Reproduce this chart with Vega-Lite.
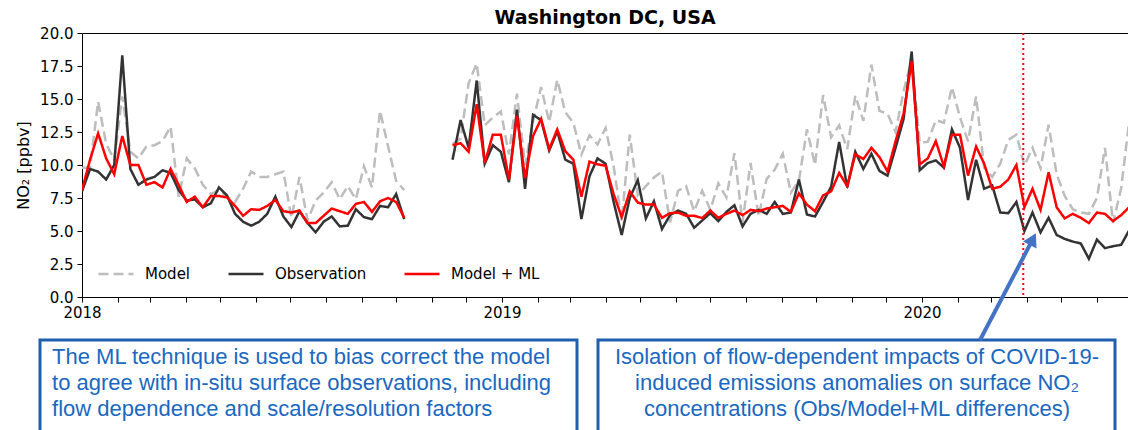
{
  "$schema": "https://vega.github.io/schema/vega-lite/v6.json",
  "autosize": {"type": "none"},
  "padding": {"left": 82, "top": 33, "right": 0, "bottom": 133},
  "width": 1046,
  "height": 264,
  "background": "white",
  "title": {"text": "Washington DC, USA", "font": "DejaVu Sans", "fontSize": 19, "fontWeight": "bold", "color": "black", "anchor": "middle", "offset": -2},
  "config": {
    "view": {"stroke": null},
    "axis": {"grid": false, "domainColor": "black", "domainWidth": 1, "tickColor": "black", "tickSize": 5, "labelColor": "black", "labelFont": "DejaVu Sans", "labelFontSize": 15, "labelOverlap": false, "labelSeparation": 0, "titleFont": "DejaVu Sans", "titleFontSize": 16, "titleFontWeight": "normal", "titleColor": "black"},
    "legend": {"orient": "bottom-left", "direction": "horizontal", "symbolType": "stroke", "symbolSize": 1225, "symbolStrokeWidth": 2.5, "labelFont": "DejaVu Sans", "labelFontSize": 15, "labelColor": "black", "labelOffset": 10, "columnPadding": 32, "offset": 15, "padding": 0}
  },
  "datasets": {
    "weekly": [
      {"date": "2018-01-01", "seg": 1, "Model": 9.8, "Observation": 8.0, "Model + ML": 8.1},
      {"date": "2018-01-08", "seg": 1, "Model": 9.8, "Observation": 9.7, "Model + ML": 10.4},
      {"date": "2018-01-15", "seg": 1, "Model": 14.8, "Observation": 9.5, "Model + ML": 12.4},
      {"date": "2018-01-22", "seg": 1, "Model": 11.6, "Observation": 8.9, "Model + ML": 10.5},
      {"date": "2018-01-29", "seg": 1, "Model": 10.4, "Observation": 10.0, "Model + ML": 9.3},
      {"date": "2018-02-05", "seg": 1, "Model": 15.2, "Observation": 18.3, "Model + ML": 12.2},
      {"date": "2018-02-12", "seg": 1, "Model": 11.0, "Observation": 9.7, "Model + ML": 10.0},
      {"date": "2018-02-19", "seg": 1, "Model": 10.5, "Observation": 8.5, "Model + ML": 10.0},
      {"date": "2018-02-26", "seg": 1, "Model": 11.4, "Observation": 8.9, "Model + ML": 8.5},
      {"date": "2018-03-05", "seg": 1, "Model": 11.5, "Observation": 9.1, "Model + ML": 8.7},
      {"date": "2018-03-12", "seg": 1, "Model": 11.8, "Observation": 9.6, "Model + ML": 8.3},
      {"date": "2018-03-19", "seg": 1, "Model": 12.9, "Observation": 9.4, "Model + ML": 9.7},
      {"date": "2018-03-26", "seg": 1, "Model": 7.6, "Observation": 8.1, "Model + ML": 8.5},
      {"date": "2018-04-02", "seg": 1, "Model": 10.5, "Observation": 7.3, "Model + ML": 7.2},
      {"date": "2018-04-09", "seg": 1, "Model": 9.75, "Observation": 7.4, "Model + ML": 7.6},
      {"date": "2018-04-16", "seg": 1, "Model": 8.5, "Observation": 6.8, "Model + ML": 6.8},
      {"date": "2018-04-23", "seg": 1, "Model": 7.8, "Observation": 7.1, "Model + ML": 7.65},
      {"date": "2018-04-30", "seg": 1, "Model": 8.1, "Observation": 8.3, "Model + ML": 7.65},
      {"date": "2018-05-07", "seg": 1, "Model": 7.6, "Observation": 7.7, "Model + ML": 7.55},
      {"date": "2018-05-14", "seg": 1, "Model": 7.2, "Observation": 6.3, "Model + ML": 6.9},
      {"date": "2018-05-21", "seg": 1, "Model": 8.2, "Observation": 5.7, "Model + ML": 6.15},
      {"date": "2018-05-28", "seg": 1, "Model": 9.5, "Observation": 5.4, "Model + ML": 6.65},
      {"date": "2018-06-04", "seg": 1, "Model": 9.1, "Observation": 5.7, "Model + ML": 6.6},
      {"date": "2018-06-11", "seg": 1, "Model": 9.1, "Observation": 6.3, "Model + ML": 6.9},
      {"date": "2018-06-18", "seg": 1, "Model": 9.3, "Observation": 7.6, "Model + ML": 7.35},
      {"date": "2018-06-25", "seg": 1, "Model": 9.5, "Observation": 6.1, "Model + ML": 6.5},
      {"date": "2018-07-02", "seg": 1, "Model": 6.0, "Observation": 5.3, "Model + ML": 6.4},
      {"date": "2018-07-09", "seg": 1, "Model": 9.1, "Observation": 6.5, "Model + ML": 6.55},
      {"date": "2018-07-16", "seg": 1, "Model": 5.8, "Observation": 5.6, "Model + ML": 5.6},
      {"date": "2018-07-23", "seg": 1, "Model": 7.3, "Observation": 4.9, "Model + ML": 5.6},
      {"date": "2018-07-30", "seg": 1, "Model": 7.9, "Observation": 5.7, "Model + ML": 6.15},
      {"date": "2018-08-06", "seg": 1, "Model": 8.7, "Observation": 6.1, "Model + ML": 6.7},
      {"date": "2018-08-13", "seg": 1, "Model": 7.4, "Observation": 5.35, "Model + ML": 6.5},
      {"date": "2018-08-20", "seg": 1, "Model": 8.4, "Observation": 5.4, "Model + ML": 6.3},
      {"date": "2018-08-27", "seg": 1, "Model": 7.4, "Observation": 6.65, "Model + ML": 7.05},
      {"date": "2018-09-03", "seg": 1, "Model": 9.9, "Observation": 6.05, "Model + ML": 7.2},
      {"date": "2018-09-10", "seg": 1, "Model": 8.3, "Observation": 5.9, "Model + ML": 6.45},
      {"date": "2018-09-17", "seg": 1, "Model": 14.1, "Observation": 6.9, "Model + ML": 7.25},
      {"date": "2018-09-24", "seg": 1, "Model": 11.4, "Observation": 6.8, "Model + ML": 7.5},
      {"date": "2018-10-01", "seg": 1, "Model": 8.8, "Observation": 7.8, "Model + ML": 7.2},
      {"date": "2018-10-08", "seg": 1, "Model": 8.1, "Observation": 5.9, "Model + ML": 6.0},
      {"date": "2018-11-19", "seg": 2, "Model": 11.6, "Observation": 10.4, "Model + ML": 11.5},
      {"date": "2018-11-26", "seg": 2, "Model": 12.0, "Observation": 13.4, "Model + ML": 11.65},
      {"date": "2018-12-03", "seg": 2, "Model": 16.2, "Observation": 11.3, "Model + ML": 11.0},
      {"date": "2018-12-10", "seg": 2, "Model": 17.7, "Observation": 16.4, "Model + ML": 14.6},
      {"date": "2018-12-17", "seg": 2, "Model": 13.0, "Observation": 10.1, "Model + ML": 10.15},
      {"date": "2018-12-24", "seg": 2, "Model": 13.6, "Observation": 11.5, "Model + ML": 12.3},
      {"date": "2018-12-31", "seg": 2, "Model": 14.05, "Observation": 11.0, "Model + ML": 12.3},
      {"date": "2019-01-07", "seg": 2, "Model": 10.8, "Observation": 8.7, "Model + ML": 8.9},
      {"date": "2019-01-14", "seg": 2, "Model": 15.4, "Observation": 14.2, "Model + ML": 13.75},
      {"date": "2019-01-21", "seg": 2, "Model": 10.0, "Observation": 8.2, "Model + ML": 9.0},
      {"date": "2019-01-28", "seg": 2, "Model": 13.3, "Observation": 13.8, "Model + ML": 12.2},
      {"date": "2019-02-04", "seg": 2, "Model": 15.9, "Observation": 13.4, "Model + ML": 13.5},
      {"date": "2019-02-11", "seg": 2, "Model": 13.25, "Observation": 11.1, "Model + ML": 11.2},
      {"date": "2019-02-18", "seg": 2, "Model": 16.45, "Observation": 12.55, "Model + ML": 12.7},
      {"date": "2019-02-25", "seg": 2, "Model": 14.0, "Observation": 10.4, "Model + ML": 11.05},
      {"date": "2019-03-04", "seg": 2, "Model": 13.2, "Observation": 10.1, "Model + ML": 10.4},
      {"date": "2019-03-11", "seg": 2, "Model": 10.8, "Observation": 5.9, "Model + ML": 7.6},
      {"date": "2019-03-18", "seg": 2, "Model": 12.25, "Observation": 9.15, "Model + ML": 10.25},
      {"date": "2019-03-25", "seg": 2, "Model": 11.55, "Observation": 10.5, "Model + ML": 10.05},
      {"date": "2019-04-01", "seg": 2, "Model": 12.8, "Observation": 10.1, "Model + ML": 9.95},
      {"date": "2019-04-08", "seg": 2, "Model": 9.9, "Observation": 7.2, "Model + ML": 7.8},
      {"date": "2019-04-15", "seg": 2, "Model": 5.8, "Observation": 4.7, "Model + ML": 6.05},
      {"date": "2019-04-22", "seg": 2, "Model": 12.3, "Observation": 7.5, "Model + ML": 8.0},
      {"date": "2019-04-29", "seg": 2, "Model": 7.7, "Observation": 8.85, "Model + ML": 7.15},
      {"date": "2019-05-06", "seg": 2, "Model": 8.4, "Observation": 5.95, "Model + ML": 7.0},
      {"date": "2019-05-13", "seg": 2, "Model": 9.05, "Observation": 7.25, "Model + ML": 7.0},
      {"date": "2019-05-20", "seg": 2, "Model": 9.5, "Observation": 5.15, "Model + ML": 6.0},
      {"date": "2019-05-27", "seg": 2, "Model": 5.65, "Observation": 6.2, "Model + ML": 6.35},
      {"date": "2019-06-03", "seg": 2, "Model": 8.05, "Observation": 6.55, "Model + ML": 6.4},
      {"date": "2019-06-10", "seg": 2, "Model": 8.4, "Observation": 6.3, "Model + ML": 6.15},
      {"date": "2019-06-17", "seg": 2, "Model": 6.5, "Observation": 5.25, "Model + ML": 6.15},
      {"date": "2019-06-24", "seg": 2, "Model": 8.05, "Observation": 5.8, "Model + ML": 5.98},
      {"date": "2019-07-01", "seg": 2, "Model": 6.6, "Observation": 6.35, "Model + ML": 6.55},
      {"date": "2019-07-08", "seg": 2, "Model": 8.6, "Observation": 5.75, "Model + ML": 6.0},
      {"date": "2019-07-15", "seg": 2, "Model": 7.55, "Observation": 6.45, "Model + ML": 6.3},
      {"date": "2019-07-22", "seg": 2, "Model": 10.9, "Observation": 6.95, "Model + ML": 6.55},
      {"date": "2019-07-29", "seg": 2, "Model": 5.65, "Observation": 5.35, "Model + ML": 6.2},
      {"date": "2019-08-05", "seg": 2, "Model": 10.15, "Observation": 6.3, "Model + ML": 6.6},
      {"date": "2019-08-12", "seg": 2, "Model": 6.1, "Observation": 6.6, "Model + ML": 6.5},
      {"date": "2019-08-19", "seg": 2, "Model": 8.95, "Observation": 6.3, "Model + ML": 6.7},
      {"date": "2019-08-26", "seg": 2, "Model": 9.65, "Observation": 7.2, "Model + ML": 6.8},
      {"date": "2019-09-02", "seg": 2, "Model": 10.85, "Observation": 6.3, "Model + ML": 6.9},
      {"date": "2019-09-09", "seg": 2, "Model": 7.9, "Observation": 6.4, "Model + ML": 6.45},
      {"date": "2019-09-16", "seg": 2, "Model": 8.8, "Observation": 8.9, "Model + ML": 7.85},
      {"date": "2019-09-23", "seg": 2, "Model": 12.7, "Observation": 6.25, "Model + ML": 7.0},
      {"date": "2019-09-30", "seg": 2, "Model": 10.0, "Observation": 6.1, "Model + ML": 6.5},
      {"date": "2019-10-07", "seg": 2, "Model": 15.3, "Observation": 7.2, "Model + ML": 7.7},
      {"date": "2019-10-14", "seg": 2, "Model": 12.1, "Observation": 8.35, "Model + ML": 8.0},
      {"date": "2019-10-21", "seg": 2, "Model": 13.0, "Observation": 11.75, "Model + ML": 9.4},
      {"date": "2019-10-28", "seg": 2, "Model": 11.2, "Observation": 8.3, "Model + ML": 8.4},
      {"date": "2019-11-04", "seg": 2, "Model": 15.25, "Observation": 11.0, "Model + ML": 10.8},
      {"date": "2019-11-11", "seg": 2, "Model": 13.35, "Observation": 9.7, "Model + ML": 10.45},
      {"date": "2019-11-18", "seg": 2, "Model": 17.6, "Observation": 10.85, "Model + ML": 11.3},
      {"date": "2019-11-25", "seg": 2, "Model": 14.1, "Observation": 9.55, "Model + ML": 10.6},
      {"date": "2019-12-02", "seg": 2, "Model": 13.9, "Observation": 9.2, "Model + ML": 9.5},
      {"date": "2019-12-09", "seg": 2, "Model": 12.5, "Observation": 11.3, "Model + ML": 11.8},
      {"date": "2019-12-16", "seg": 2, "Model": 15.6, "Observation": 13.5, "Model + ML": 13.9},
      {"date": "2019-12-23", "seg": 2, "Model": 18.0, "Observation": 18.6, "Model + ML": 17.85},
      {"date": "2019-12-30", "seg": 2, "Model": 11.7, "Observation": 9.6, "Model + ML": 10.05},
      {"date": "2020-01-06", "seg": 2, "Model": 11.75, "Observation": 10.15, "Model + ML": 10.5},
      {"date": "2020-01-13", "seg": 2, "Model": 13.4, "Observation": 10.35, "Model + ML": 11.8},
      {"date": "2020-01-20", "seg": 2, "Model": 13.2, "Observation": 9.8, "Model + ML": 9.9},
      {"date": "2020-01-27", "seg": 2, "Model": 15.9, "Observation": 12.7, "Model + ML": 12.3},
      {"date": "2020-02-03", "seg": 2, "Model": 13.6, "Observation": 11.3, "Model + ML": 12.3},
      {"date": "2020-02-10", "seg": 2, "Model": 11.8, "Observation": 7.35, "Model + ML": 9.2},
      {"date": "2020-02-17", "seg": 2, "Model": 15.2, "Observation": 10.4, "Model + ML": 11.4},
      {"date": "2020-02-24", "seg": 2, "Model": 9.8, "Observation": 8.2, "Model + ML": 10.1},
      {"date": "2020-03-02", "seg": 2, "Model": 9.1, "Observation": 8.45, "Model + ML": 8.2},
      {"date": "2020-03-09", "seg": 2, "Model": 10.1, "Observation": 6.4, "Model + ML": 8.35},
      {"date": "2020-03-16", "seg": 2, "Model": 11.9, "Observation": 6.35, "Model + ML": 8.9},
      {"date": "2020-03-23", "seg": 2, "Model": 12.3, "Observation": 7.2, "Model + ML": 10.0},
      {"date": "2020-03-30", "seg": 2, "Model": 9.95, "Observation": 5.0, "Model + ML": 6.8},
      {"date": "2020-04-06", "seg": 2, "Model": 11.3, "Observation": 6.4, "Model + ML": 8.2},
      {"date": "2020-04-13", "seg": 2, "Model": 9.75, "Observation": 4.9, "Model + ML": 6.6},
      {"date": "2020-04-20", "seg": 2, "Model": 13.05, "Observation": 6.0, "Model + ML": 9.45},
      {"date": "2020-04-27", "seg": 2, "Model": 9.3, "Observation": 4.7, "Model + ML": 6.8},
      {"date": "2020-05-04", "seg": 2, "Model": 7.65, "Observation": 4.4, "Model + ML": 5.95},
      {"date": "2020-05-11", "seg": 2, "Model": 6.65, "Observation": 4.2, "Model + ML": 6.3},
      {"date": "2020-05-18", "seg": 2, "Model": 6.4, "Observation": 4.05, "Model + ML": 6.0},
      {"date": "2020-05-25", "seg": 2, "Model": 6.3, "Observation": 2.9, "Model + ML": 5.6},
      {"date": "2020-06-01", "seg": 2, "Model": 7.5, "Observation": 4.35, "Model + ML": 6.4},
      {"date": "2020-06-08", "seg": 2, "Model": 11.3, "Observation": 3.7, "Model + ML": 6.3},
      {"date": "2020-06-15", "seg": 2, "Model": 5.6, "Observation": 3.85, "Model + ML": 5.75},
      {"date": "2020-06-22", "seg": 2, "Model": 8.2, "Observation": 3.95, "Model + ML": 6.2},
      {"date": "2020-06-29", "seg": 2, "Model": 13.3, "Observation": 5.05, "Model + ML": 6.8}
    ],
    "events": [{"date": "2020-03-29", "label": "COVID-19 lockdown"}],
    "boxes": [
      {"box": 1, "x1": "2017-11-25T12:00:00Z", "x2": "2019-03-07T04:00:00Z", "y1": -3.26, "y2": -11},
      {"box": 2, "x1": "2019-03-25T10:00:00Z", "x2": "2020-06-16T17:00:00Z", "y1": -3.26, "y2": -11}
    ],
    "notes": [
      {"box": 1, "x": "2017-12-06T00:00:00Z", "y": -4.55, "text": "The ML technique is used to bias correct the model"},
      {"box": 1, "x": "2017-12-06T00:00:00Z", "y": -6.52, "text": "to agree with in-situ surface observations, including"},
      {"box": 1, "x": "2017-12-06T00:00:00Z", "y": -8.48, "text": "flow dependence and scale/resolution factors"},
      {"box": 2, "x": "2019-11-05T12:00:00Z", "y": -4.55, "text": "Isolation of flow-dependent impacts of COVID-19-"},
      {"box": 2, "x": "2019-11-05T12:00:00Z", "y": -6.52, "text": "induced emissions anomalies on surface NO₂"},
      {"box": 2, "x": "2019-11-05T12:00:00Z", "y": -8.48, "text": "concentrations (Obs/Model+ML differences)"}
    ],
    "arrow": [
      {"x1": "2020-02-20T10:00:00Z", "y1": -3.26, "x2": "2020-04-06T07:00:00Z", "y2": 4.38}
    ]
  },
  "layer": [
    {
      "data": {"name": "weekly"},
      "transform": [{"fold": ["Model", "Observation", "Model + ML"], "as": ["series", "no2"]}],
      "mark": {"type": "line", "strokeWidth": 2.5, "clip": true},
      "encoding": {
        "x": {
          "field": "date", "type": "temporal",
          "scale": {"type": "utc", "domain": [{"year": 2018, "month": 1, "date": 1, "utc": true}, {"year": 2020, "month": 6, "date": 28, "utc": true}]},
          "axis": {"title": null, "tickCount": {"interval": "month", "step": 1}, "labelExpr": "utcmonth(datum.value) == 0 ? utcFormat(datum.value, '%Y') : ''", "labelOverlap": false, "labelFlush": false, "labelPadding": 3}
        },
        "y": {
          "field": "no2", "type": "quantitative",
          "scale": {"domain": [0, 20], "nice": false, "zero": false},
          "axis": {"title": "NO₂ [ppbv]", "values": [0, 2.5, 5, 7.5, 10, 12.5, 15, 17.5, 20], "format": ".1f", "labelOverlap": false, "labelPadding": 4, "titlePadding": 8}
        },
        "color": {"field": "series", "type": "nominal", "scale": {"domain": ["Model", "Observation", "Model + ML"], "range": ["#bdbdbd", "#333333", "#ff0000"]}, "legend": {"title": null}},
        "strokeDash": {"field": "series", "type": "nominal", "scale": {"domain": ["Model", "Observation", "Model + ML"], "range": [[10, 5], [1, 0], [1, 0]]}, "legend": {"title": null}},
        "opacity": {"field": "series", "type": "nominal", "scale": {"domain": ["Model", "Observation", "Model + ML"], "range": [1, 1, 0.8]}, "legend": {"title": null}},
        "detail": {"field": "seg", "type": "nominal"}
      }
    },
    {
      "data": {"name": "events"},
      "mark": {"type": "rule", "color": "#ff0000", "strokeWidth": 2, "strokeDash": [2, 3]},
      "encoding": {
        "x": {"field": "date", "type": "temporal", "axis": {"orient": "top", "labels": false, "ticks": false, "title": null, "domain": true, "minExtent": 0, "maxExtent": 0}}
      }
    },
    {
      "data": {"name": "boxes"},
      "mark": {"type": "rect", "fill": "white", "stroke": "#1f5fae", "strokeWidth": 3, "clip": false},
      "encoding": {
        "x": {"field": "x1", "type": "temporal", "axis": null},
        "x2": {"field": "x2"},
        "y": {"field": "y1", "type": "quantitative", "scale": {"domain": [0, 20], "nice": false, "zero": false}, "axis": null},
        "y2": {"field": "y2"}
      }
    },
    {
      "data": {"name": "notes"},
      "transform": [{"filter": "datum.box == 1"}],
      "mark": {"type": "text", "align": "left", "baseline": "middle", "font": "Liberation Sans", "fontSize": 22, "color": "#1a68c0", "clip": false},
      "encoding": {
        "x": {"field": "x", "type": "temporal", "axis": null},
        "y": {"field": "y", "type": "quantitative", "scale": {"domain": [0, 20], "nice": false, "zero": false}, "axis": null},
        "text": {"field": "text"}
      }
    },
    {
      "data": {"name": "notes"},
      "transform": [{"filter": "datum.box == 2"}],
      "mark": {"type": "text", "align": "center", "baseline": "middle", "font": "Liberation Sans", "fontSize": 22, "color": "#1a68c0", "clip": false},
      "encoding": {
        "x": {"field": "x", "type": "temporal", "axis": null},
        "y": {"field": "y", "type": "quantitative", "scale": {"domain": [0, 20], "nice": false, "zero": false}, "axis": null},
        "text": {"field": "text"}
      }
    },
    {
      "data": {"name": "arrow"},
      "mark": {"type": "rule", "color": "#4472c4", "strokeWidth": 4, "clip": false},
      "encoding": {
        "x": {"field": "x1", "type": "temporal", "axis": null},
        "x2": {"field": "x2"},
        "y": {"field": "y1", "type": "quantitative", "scale": {"domain": [0, 20], "nice": false, "zero": false}, "axis": null},
        "y2": {"field": "y2"}
      }
    },
    {
      "data": {"name": "arrow"},
      "mark": {"type": "point", "shape": "triangle-up", "filled": true, "size": 230, "angle": 27.6, "color": "#4472c4", "opacity": 1, "clip": false},
      "encoding": {
        "x": {"field": "x2", "type": "temporal", "axis": null},
        "y": {"field": "y2", "type": "quantitative", "scale": {"domain": [0, 20], "nice": false, "zero": false}, "axis": null}
      }
    }
  ],
  "resolve": {"axis": {"x": "independent", "y": "independent"}, "scale": {"y": "independent"}}
}
